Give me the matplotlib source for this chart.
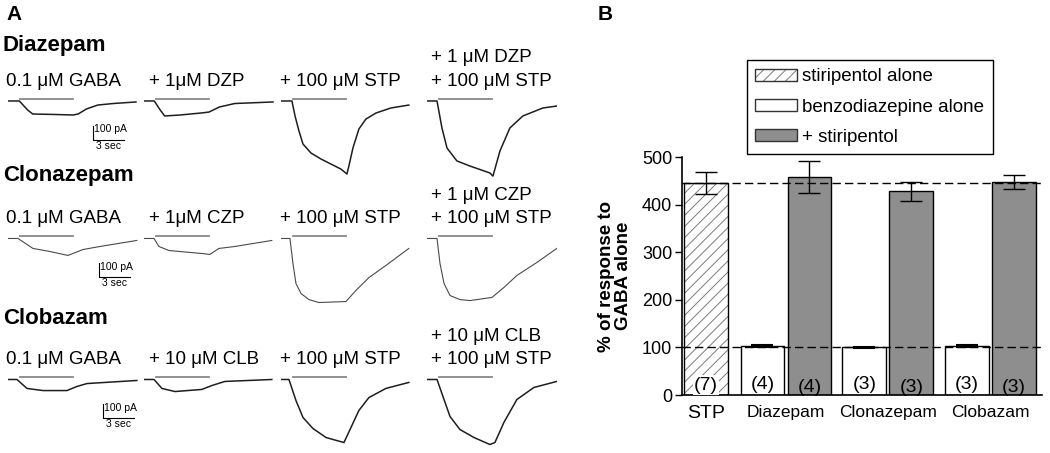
import numpy as np
import matplotlib.pyplot as plt
from matplotlib.patches import Patch

plt.rcParams['font.family'] = ['Liberation Sans', 'DejaVu Sans']
plt.rcParams['hatch.linewidth'] = 0.7

# ---------------- Panel A: whole-cell current traces (t in s, I in pA) ----------------
drugs = ['Diazepam', 'Clonazepam', 'Clobazam']
col_labels = [['0.1 μM GABA', '+ 1μM DZP', '+ 100 μM STP', '+ 100 μM STP'],
              ['0.1 μM GABA', '+ 1μM CZP', '+ 100 μM STP', '+ 100 μM STP'],
              ['0.1 μM GABA', '+ 10 μM CLB', '+ 100 μM STP', '+ 100 μM STP']]
top_labels = ['+ 1 μM DZP', '+ 1 μM CZP', '+ 10 μM CLB']

# Diazepam row
dzp_gaba_t = [0, 1.1, 1.9, 2.4, 4.4, 6.3, 6.8, 7.6, 8.7, 10.2, 12.4]
dzp_gaba_i = [0, 0, -64, -93, -96, -100, -93, -57, -29, -18, -7]
dzp_bzd_t = [0, 1.0, 1.5, 2.0, 3.5, 5.5, 6.3, 7.3, 8.8, 12.5]
dzp_bzd_i = [0, 0, -57, -107, -100, -86, -79, -43, -18, -7]
dzp_stp_t = [0, 1.06, 1.36, 1.74, 2.13, 2.9, 3.87, 4.84, 5.81, 6.39, 6.58, 6.97, 7.55, 8.23, 9.2, 10.65, 12.39]
dzp_stp_i = [0, 0, -107, -214, -307, -371, -414, -450, -486, -521, -464, -336, -200, -129, -86, -50, -29]
dzp_both_t = [0, 0.77, 0.97, 1.45, 1.94, 2.9, 4.16, 6.1, 6.39, 7.07, 8.03, 9.29, 11.23, 12.58]
dzp_both_i = [0, 0, 0, -193, -336, -428, -464, -514, -536, -357, -193, -107, -50, -36]

# Clonazepam row
czp_gaba_t = [0, 0.97, 2.42, 4.07, 5.81, 7.26, 8.91, 12.49]
czp_gaba_i = [0, 0, -71, -93, -121, -79, -57, -14]
czp_bzd_t = [0, 0.97, 1.45, 2.42, 5.61, 6.39, 7.26, 8.81, 12.39]
czp_bzd_i = [0, 0, -57, -86, -107, -114, -71, -57, -14]
czp_stp_t = [0, 0.87, 1.16, 1.45, 1.94, 2.71, 3.68, 6.29, 7.26, 8.52, 10.16, 12.39]
czp_stp_i = [0, 0, -179, -321, -393, -436, -457, -450, -371, -279, -193, -71]
czp_both_t = [0, 0.97, 1.26, 1.65, 2.23, 3.19, 4.16, 6.29, 7.45, 8.71, 10.65, 12.58]
czp_both_i = [0, 0, -179, -321, -407, -436, -443, -421, -350, -264, -171, -71]

# Clobazam row
clb_gaba_t = [0, 0.87, 1.84, 3.39, 5.71, 6.68, 7.65, 12.49]
clb_gaba_i = [0, 0, -64, -79, -79, -50, -29, -7]
clb_bzd_t = [0, 0.97, 1.74, 3.0, 5.61, 6.58, 7.84, 12.39]
clb_bzd_i = [0, 0, -64, -86, -71, -43, -14, 0]
clb_stp_t = [0, 0.77, 1.45, 2.13, 3.1, 4.36, 6.1, 6.78, 7.55, 8.52, 10.16, 12.39]
clb_stp_i = [0, 0, -150, -271, -350, -414, -450, -343, -221, -129, -64, -21]
clb_both_t = [0, 0.97, 1.65, 2.23, 3.19, 4.55, 6.1, 6.58, 7.45, 8.71, 10.36, 12.58]
clb_both_i = [0, 0, -143, -264, -357, -414, -464, -450, -307, -143, -57, -14]

traces = [[(dzp_gaba_t, dzp_gaba_i), (dzp_bzd_t, dzp_bzd_i), (dzp_stp_t, dzp_stp_i), (dzp_both_t, dzp_both_i)],
          [(czp_gaba_t, czp_gaba_i), (czp_bzd_t, czp_bzd_i), (czp_stp_t, czp_stp_i), (czp_both_t, czp_both_i)],
          [(clb_gaba_t, clb_gaba_i), (clb_bzd_t, clb_bzd_i), (clb_stp_t, clb_stp_i), (clb_both_t, clb_both_i)]]
app_on, app_off = 1.15, 6.3   # drug application window (s)
scale_t0 = [8.2, 8.8, 9.2]     # scale bar position per row (s)

# ---------------- Panel B: bar chart ----------------
groups = ['STP', 'Diazepam', 'Clonazepam', 'Clobazam']
stp_mean, stp_sem, stp_n = 445, 23, 7
bzd_mean = [103, 100, 103]
bzd_sem = [2, 1, 2]
bzd_n = [4, 3, 3]
combo_mean = [458, 428, 447]
combo_sem = [34, 20, 15]
combo_n = [4, 3, 3]

W, H = 1050, 453
fig = plt.figure(figsize=(W / 100, H / 100), dpi=100)


def box(left, top, width, height):
    return [left / W, 1 - (top + height) / H, width / W, height / H]


def ftext(x, y, s, **kw):
    fig.text(x / W, 1 - y / H, s, va='center', **kw)


row_base = [101, 238.5, 379.5]
row_title_y = [46, 175, 319]
col_x = [8, 144, 281, 427]
label_x = [6, 149, 280, 431]
line_col = ['#1e1e1e', '#4a4a4a', '#1e1e1e']

ftext(6, 15, 'A', fontsize=15, fontweight='bold')
ftext(598, 15, 'B', fontsize=15, fontweight='bold')

for r in range(3):
    base = row_base[r]
    ftext(3, row_title_y[r], drugs[r], fontsize=16, fontweight='bold')
    for c in range(4):
        ax = fig.add_axes(box(col_x[c], base - 8, 130, 88))
        t, i = traces[r][c]
        ax.plot(t, i, color=line_col[r], lw=1.1 if r != 1 else 0.8)
        ax.plot([app_on, app_off], [16, 16], color='#888888', lw=1.3)
        ax.set_xlim(0, 12.6)
        ax.set_ylim(-571, 57)
        ax.axis('off')
        ftext(label_x[c], base - 20, col_labels[r][c], fontsize=13.5)
        if c == 3:
            ftext(label_x[c], base - 43, top_labels[r], fontsize=13.5)
        if c == 0:
            s0 = scale_t0[r]
            ax.plot([s0, s0, s0 + 3], [-175, -275, -275], color='k', lw=0.8)
            ax.text(s0 + 0.1, -200, '100 pA', fontsize=7.5, va='center', ha='left')
            ax.text(s0 + 1.5, -320, '3 sec', fontsize=7.5, va='center', ha='center')

# ---- Panel B ----
axb = fig.add_axes(box(682, 157, 360, 238))
bw = 0.93
grey = '#8e8e8e'
gx = np.array([1.7, 3.87, 6.05])
wx = gx - 0.5
cx = gx + 0.5

axb.bar(0, stp_mean, width=bw, color='white', edgecolor='#7a7a7a', lw=0, hatch='///', zorder=2)
axb.bar(0, stp_mean, width=bw, fill=False, edgecolor='k', lw=1, zorder=3)
axb.bar(wx, bzd_mean, width=bw, color='white', edgecolor='k', lw=1, zorder=2)
axb.bar(cx, combo_mean, width=bw, color=grey, edgecolor='k', lw=1, zorder=2)

axb.errorbar([0], [stp_mean], yerr=[stp_sem], fmt='none', ecolor='k', elinewidth=1, capsize=8, capthick=1, zorder=5)
axb.errorbar(wx, bzd_mean, yerr=bzd_sem, fmt='none', ecolor='k', elinewidth=1, capsize=8, capthick=1.5, zorder=5)
axb.errorbar(cx, combo_mean, yerr=combo_sem, fmt='none', ecolor='k', elinewidth=1, capsize=8, capthick=1, zorder=5)

axb.axhline(stp_mean, color='k', ls=(0, (6, 3)), lw=1, zorder=4)
axb.axhline(100, color='k', ls=(0, (6, 3)), lw=1, zorder=4)

axb.text(0, 21, f'({stp_n})', ha='center', va='center', fontsize=14, zorder=6,
         bbox=dict(facecolor='white', edgecolor='none', pad=1))
for x, n in zip(wx, bzd_n):
    axb.text(x, 22, f'({n})', ha='center', va='center', fontsize=14, zorder=6)
for x, n in zip(cx, combo_n):
    axb.text(x, 15, f'({n})', ha='center', va='center', fontsize=14, zorder=6)

axb.set_xlim(-0.51, 7.15)
axb.set_ylim(0, 500)
axb.set_yticks([0, 100, 200, 300, 400, 500])
axb.set_xticks([0, *gx])
axb.set_xticklabels(groups, fontsize=12.5)
axb.get_xticklabels()[0].set_fontsize(14)
axb.tick_params(axis='x', length=0, pad=7)
axb.tick_params(axis='y', length=5, width=1, labelsize=13, pad=2)
for s in ['top', 'right']:
    axb.spines[s].set_visible(False)
for s in ['left', 'bottom']:
    axb.spines[s].set_linewidth(1.2)
axb.set_ylabel('% of response to\nGABA alone', fontsize=13.5, fontweight='bold', labelpad=7, linespacing=1.05)

h_stp = (Patch(facecolor='white', edgecolor='#7a7a7a', lw=0, hatch='///'),
         Patch(fill=False, edgecolor='#333333', lw=1))
h_bzd = Patch(facecolor='white', edgecolor='#333333', lw=1)
h_cmb = Patch(facecolor=grey, edgecolor='#333333', lw=1)
fig.legend([h_stp, h_bzd, h_cmb], ['stiripentol alone', 'benzodiazepine alone', '+ stiripentol'],
           loc='upper left', bbox_to_anchor=(747 / W, 1 - 60 / H), fontsize=13.5,
           frameon=True, fancybox=False, edgecolor='k', framealpha=1,
           handlelength=2.2, handleheight=0.6, handletextpad=0.3,
           labelspacing=0.7, borderpad=0.45, borderaxespad=0)

fig.savefig('out.png', dpi=100)
